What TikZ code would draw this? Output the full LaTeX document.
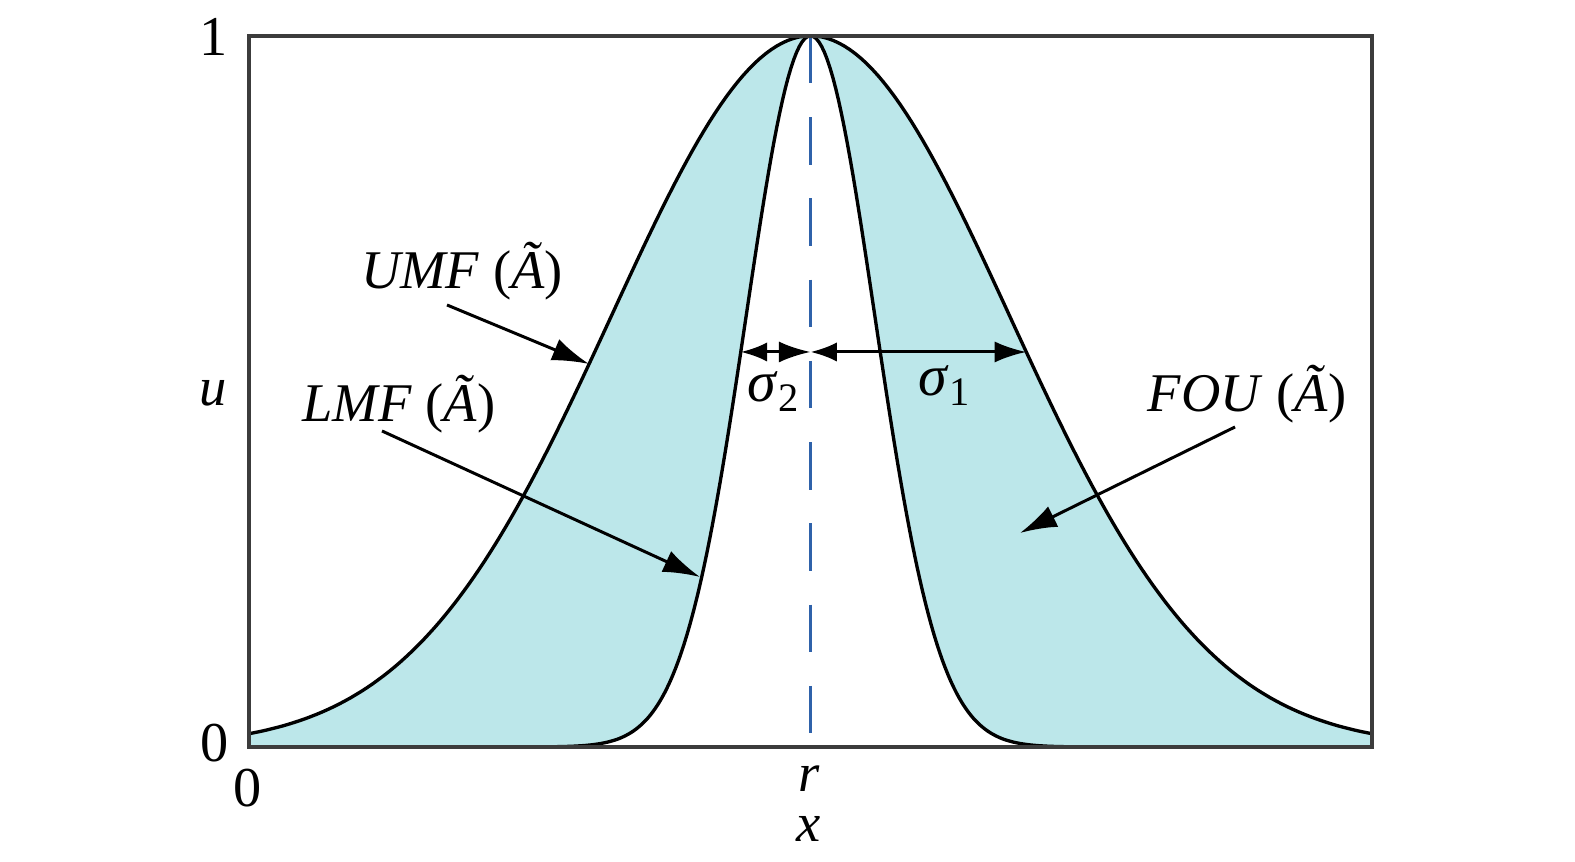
\documentclass[tikz,border=0pt]{standalone}
\usepackage{fontspec}
\setmainfont{Liberation Serif}
\usepackage{xcolor}
\definecolor{FouCyan}{HTML}{BCE7EA}
\definecolor{AxisGray}{HTML}{3C3C3C}
\definecolor{CenterBlue}{HTML}{2F62AA}
\usepackage{tikz}
\usetikzlibrary{arrows.meta}

\newcommand{\tA}{\textup{(}Ã\textup{)}}
\newcommand{\sig}[1]{{\fontsize{16.5}{18}\selectfont σ}\kern0.5pt\raisebox{-0.4ex}{\upshape\fontsize{11.5}{11}\selectfont #1}}

\begin{document}
\begin{tikzpicture}[x=0.01cm,y=0.01cm,
    lbl/.style={font=\fontsize{15.5}{18}\selectfont\itshape, inner sep=0pt},
    num/.style={font=\fontsize{16}{18}\selectfont, inner sep=0pt},
    curve/.style={line width=0.95pt, black},
    pointer/.style={line width=0.85pt, -{Latex[length=10.5pt,width=6.5pt]}},
    span/.style={line width=0.85pt, {Latex[length=7.5pt,width=5.5pt]}-{Latex[length=9pt,width=6pt]}}]
  \useasboundingbox (0,0) rectangle (1575,862);
  \fill[FouCyan] plot[domain=-561.5:561.5, samples=201] ({810.5+\x},{115+711*exp(-0.5*(\x/199)^2)}) -- (1372,115) -- (249,115) -- cycle;
  \fill[white] plot[domain=-561.5:561.5, samples=401] ({810.5+\x},{115+711*exp(-0.5*(\x/64.3)^2)}) -- (1372,115) -- (249,115) -- cycle;
  \draw[CenterBlue, line width=0.9pt, dash pattern=on 13.5pt off 9.6pt] (810.5,826) -- (810.5,115);
  \draw[curve] plot[domain=-561.5:561.5, samples=201] ({810.5+\x},{115+711*exp(-0.5*(\x/199)^2)});
  \draw[curve] plot[domain=-561.5:561.5, samples=401] ({810.5+\x},{115+711*exp(-0.5*(\x/64.3)^2)});
  \draw[AxisGray, line width=0.9pt] (249,115) rectangle (1372,826);

  \node[num] (lblone) at (214,825) {1};
  \node[num] (lblzero) at (215,119) {0};
  \node[num] (lblxzero) at (248,74) {0};
  \node[lbl] (lblr) at (809,83) {r};
  \node[lbl] (lblx) at (809,33) {x};
  \node[lbl] (lblu) at (213,469) {u};
  \node[lbl] (umf) at (462,591) {UMF \tA};
  \node[lbl] (lmf) at (399,458) {LMF \tA};
  \node[lbl] (fou) at (1247,468) {FOU \tA};
  \node[lbl] (sigtwo) at (773,470) {\sig{2}};
  \node[lbl] (sigone) at (944,476) {\sig{1}};

  \coordinate (umfstart) at (447,557);
  \coordinate (umftip) at (589,498);
  \coordinate (lmfstart) at (382,431);
  \coordinate (lmftip) at (700,285);
  \coordinate (foustart) at (1235,435);
  \coordinate (foutip) at (1020,329);
  \coordinate (peak) at (810.5,510);
  \coordinate (lmfside) at (740.8,510);
  \coordinate (umfside) at (1026.3,510);

  \draw[pointer] (umfstart) -- (umftip);
  \draw[pointer] (lmfstart) -- (lmftip);
  \draw[pointer] (foustart) -- (foutip);
  \draw[span] (lmfside) -- (peak);
  \draw[span] (peak) -- (umfside);
\end{tikzpicture}
\end{document}
